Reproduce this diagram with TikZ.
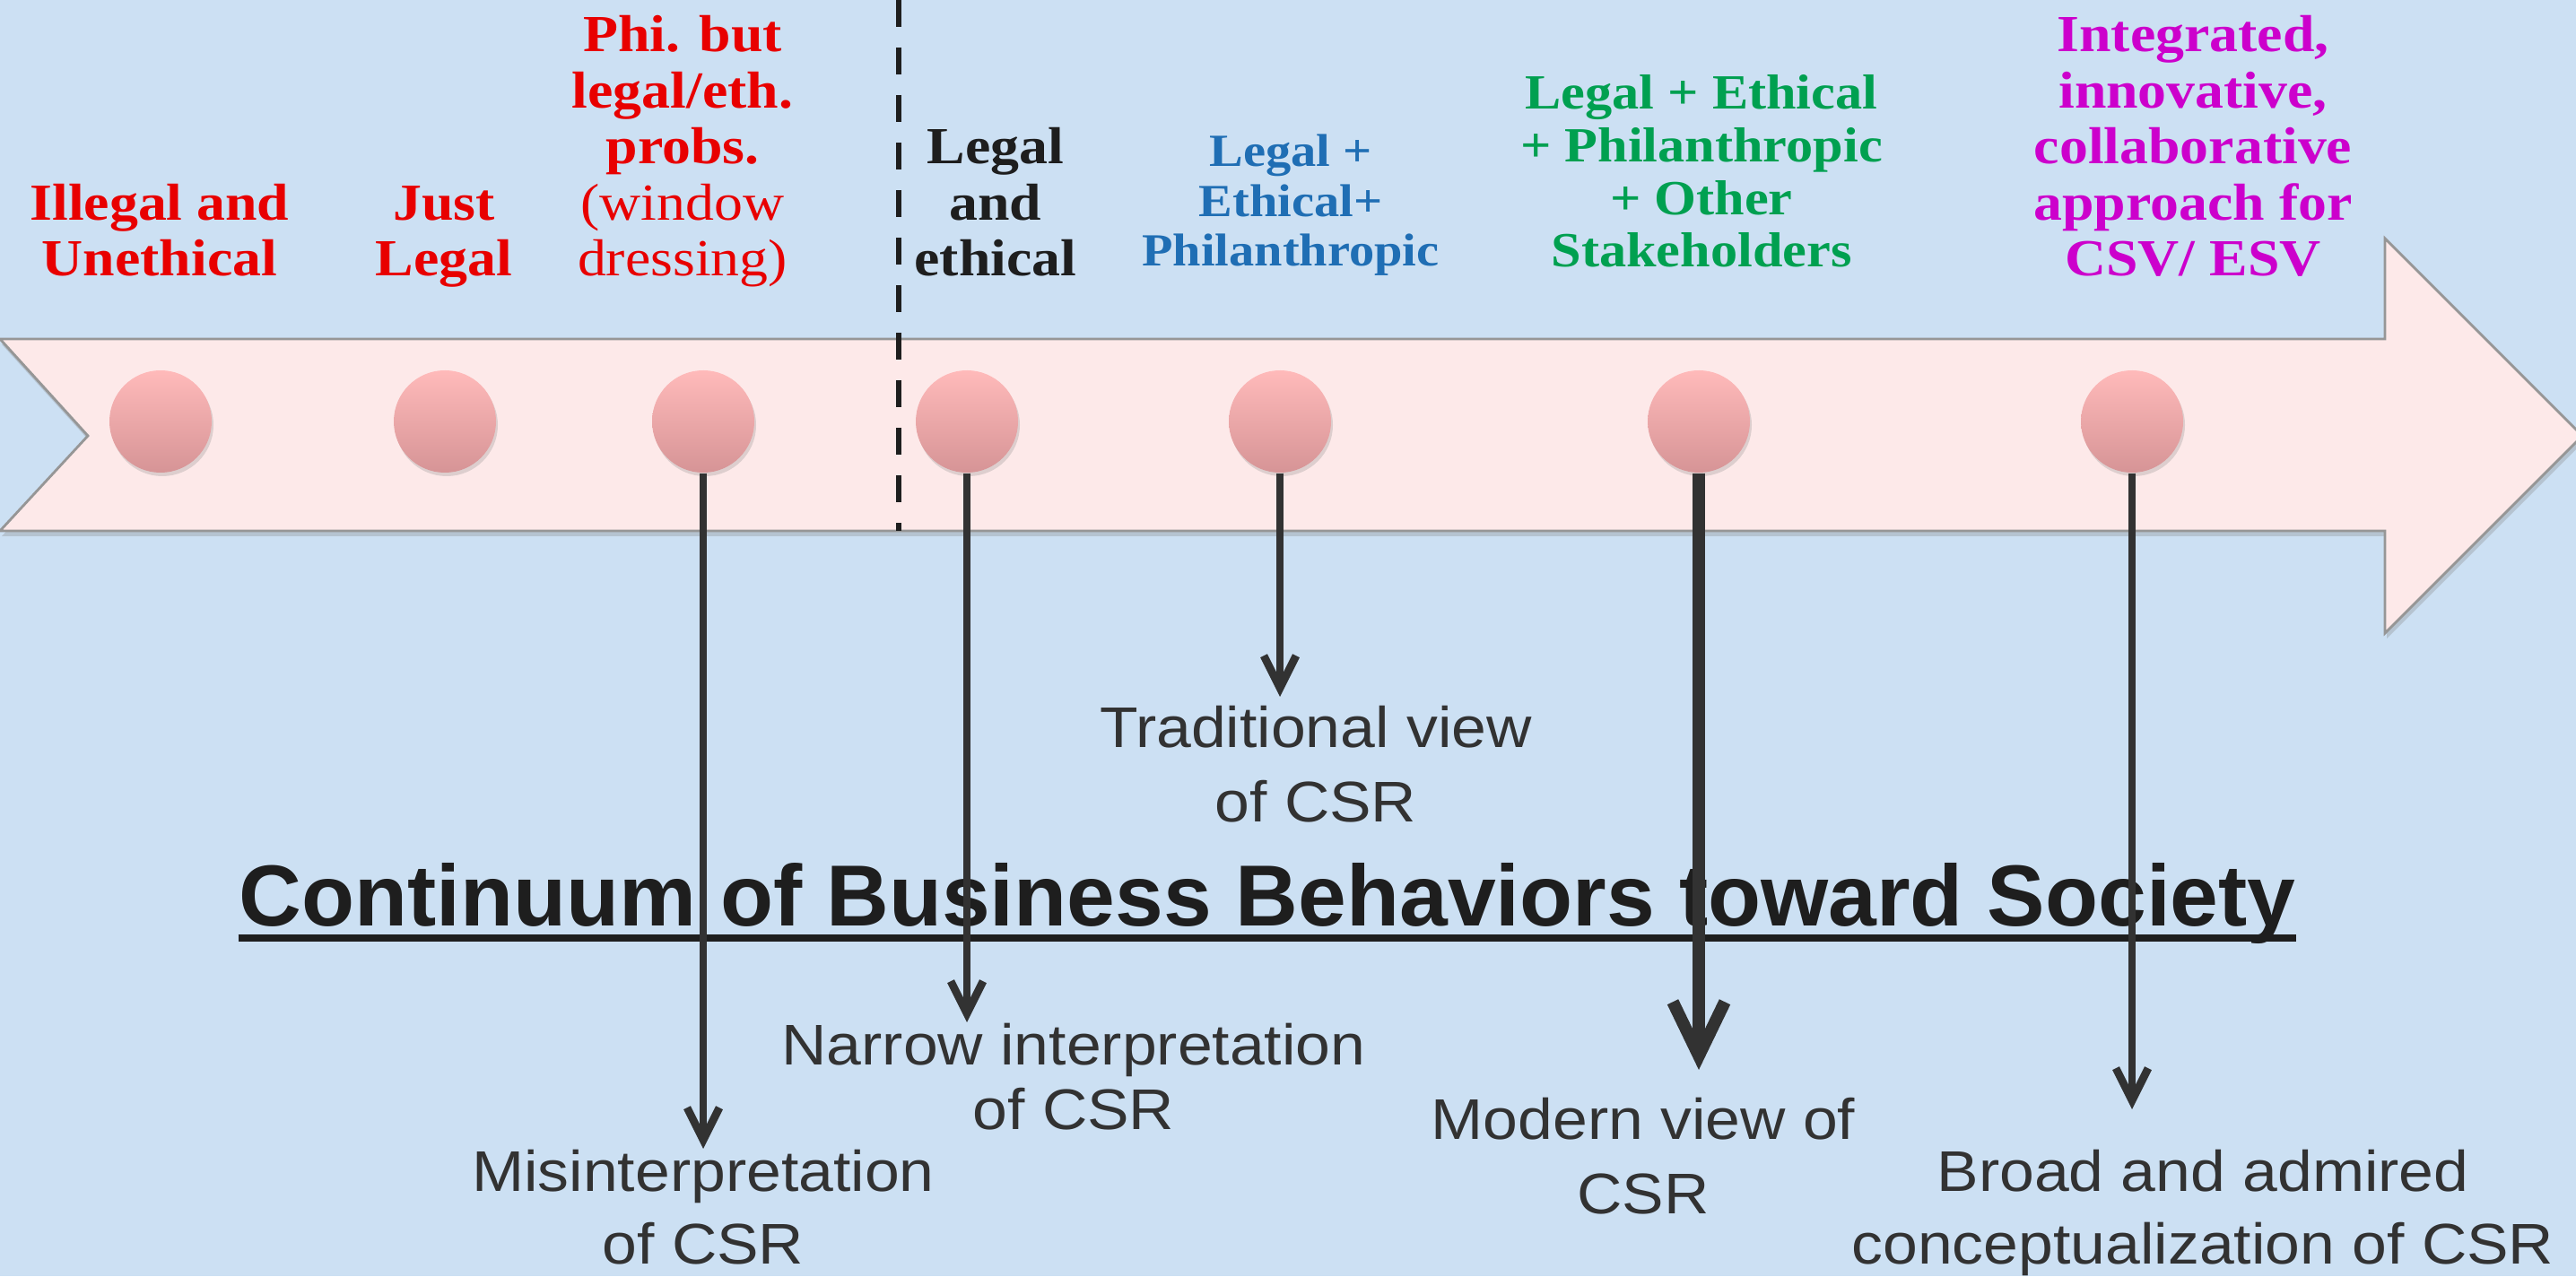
\documentclass[tikz,border=0pt]{standalone}
\usepackage{fontspec}
\setmainfont{Liberation Serif}[FakeStretch=1.1]
\setsansfont{Liberation Sans}[FakeStretch=1.09]
\newfontfamily\titrefont{Liberation Sans}
\usepackage{xcolor}
\usetikzlibrary{positioning}
\usetikzlibrary{arrows.meta,calc}
\usetikzlibrary{shadows}

\definecolor{fond}{RGB}{204,224,243}
\definecolor{bande}{RGB}{253,233,233}
\definecolor{bord}{RGB}{150,150,150}
\definecolor{bulhaut}{RGB}{255,186,186}
\definecolor{bulbas}{RGB}{214,148,150}
\definecolor{rouge}{RGB}{232,0,0}
\definecolor{noir}{RGB}{30,30,30}
\definecolor{bleu}{RGB}{31,110,180}
\definecolor{vert}{RGB}{0,160,80}
\definecolor{mauve}{RGB}{204,0,204}
\definecolor{gris}{RGB}{50,50,50}

\begin{document}
\begin{tikzpicture} [
  auto,
  bulle/.style = {circle, minimum size = 1.14cm, inner sep = 0pt, top color = bulhaut, bottom color = bulbas,
    drop shadow = {opacity = 0.25, shadow xshift = 0.02cm, shadow yshift = -0.04cm}},
  etiq/.style = {align = center, inner sep = 0pt, anchor = base, font = \bfseries\fontsize{16.5}{17.8}\selectfont},
  vue/.style = {align = center, inner sep = 0pt, anchor = north, text = gris, font = \sffamily\fontsize{18.2}{23.8}\selectfont},
  line/.style = {draw = gris, line width = 2.5pt, -{Straight Barb[length = 0.36cm, width = 0.36cm]}},
]

 \useasboundingbox (0,0) rectangle (28.72,14.23);
 \fill [fond] (0,0) rectangle (28.72,14.23);
 \clip (0,0) rectangle (28.72,14.23);

 \draw [draw = bord, line width = 0.8pt, fill = bande,
   drop shadow = {opacity = 0.3, shadow xshift = 0.02cm, shadow yshift = -0.06cm}]
   (0,10.45) -- (26.59,10.45) -- (26.59,11.57) -- (28.79,9.37) -- (26.59,7.17)
   -- (26.59,8.31) -- (0,8.31) -- (0.98,9.37) -- cycle;

 \draw [noir, line width = 0.055cm, dash pattern = on 0.3cm off 0.23cm] (10.02,14.23) -- (10.02,8.31);

 \node [bulle] (b1) at (1.79,9.53) {};
 \node [bulle] (b2) at (4.96,9.53) {};
 \node [bulle] (b3) at (7.84,9.53) {};
 \node [bulle] (b4) at (10.78,9.53) {};
 \node [bulle] (b5) at (14.27,9.53) {};
 \node [bulle] (b6) at (18.94,9.53) {};
 \node [bulle] (b7) at (23.77,9.53) {};

 \node [etiq, text = rouge] (e1) at (1.78,11.15) {Illegal and\\Unethical};
 \node [etiq, text = rouge] (e2) at (4.95,11.15) {Just\\Legal};
 \node [etiq, text = rouge] (e3) at (7.61,11.15) {Phi. but\\legal/eth.\\probs.\\\mdseries(window\\\mdseries dressing)};
 \node [etiq, text = noir] (e4) at (11.10,11.15) {Legal\\and\\ethical};
 \node [etiq, text = bleu, font = \bfseries\fontsize{14.6}{15.9}\selectfont] (e5) at (14.39,11.26) {Legal +\\Ethical+\\Philanthropic};
 \node [etiq, text = vert, font = \bfseries\fontsize{15.6}{16.7}\selectfont] (e6) at (18.97,11.25) {Legal + Ethical\\+ Philanthropic\\+ Other\\Stakeholders};
 \node [etiq, text = mauve] (e7) at (24.45,11.15) {Integrated,\\innovative,\\collaborative\\approach for\\CSV/ ESV};

 \node [anchor = base, inner sep = 0pt, text = noir, font = \titrefont\bfseries\fontsize{27.5}{32}\selectfont] (titre) at (14.13,3.90) {Continuum of Business Behaviors toward Society};
 \draw [noir, line width = 0.08cm] ([yshift = -0.13cm]titre.base west) -- ([yshift = -0.13cm]titre.base east);

 \node [vue] (trad) at (14.67,6.37) {Traditional view\\of CSR};
 \node [vue, font = \sffamily\fontsize{18.2}{20.7}\selectfont] (etroit) at (11.97,2.83) {Narrow interpretation\\of CSR};
 \node [vue, font = \sffamily\fontsize{18.2}{23.2}\selectfont] (mal) at (7.84,1.42) {Misinterpretation\\of CSR};
 \node [vue] (mod) at (18.32,2.00) {Modern view of\\CSR};
 \node [vue, font = \sffamily\fontsize{18.2}{23.2}\selectfont] (large) at (24.56,1.42) {Broad and admired\\conceptualization of CSR};

 \begin{scope}[every path/.style=line]
\path (b3) -- (b3 |- mal.north);
\path (b4) -- (b4 |- etroit.north);
\path [shorten >= 0.09cm] (b5) -- (b5 |- trad.north);
\path [line width = 3.9pt, -{Straight Barb[length = 0.6cm, width = 0.58cm]}, shorten >= 0.3cm] (b6) -- (b6 |- mod.north);
\path [shorten >= 0.44cm] (b7) -- (b7 |- large.north);
\end{scope}

\end{tikzpicture}
\end{document}
